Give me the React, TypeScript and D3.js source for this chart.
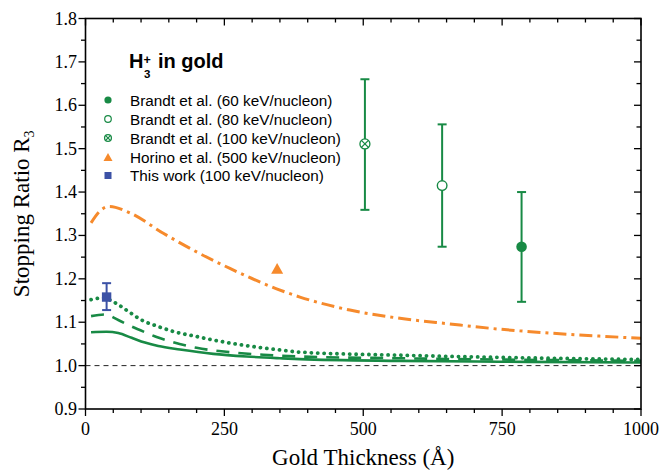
import React from "react";
import * as d3 from "d3";

// ---- data ----
const orangeX = [10, 25, 43, 80, 140, 200, 260, 344, 386, 476, 566, 656, 745, 835, 925, 1000];
const orangeY = [1.329, 1.355, 1.367, 1.352, 1.305, 1.262, 1.224, 1.177, 1.158, 1.128, 1.109, 1.096, 1.084, 1.075, 1.068, 1.063];

const dottedX = [10, 32, 53, 77, 101, 131, 160, 200, 230, 290, 350, 386, 566, 745, 1000];
const dottedY = [1.152, 1.156, 1.145, 1.125, 1.105, 1.09, 1.078, 1.067, 1.059, 1.046, 1.036, 1.031, 1.024, 1.019, 1.014];

const dashedX = [10, 35, 59, 80, 107, 128, 155, 200, 260, 320, 386, 566, 745, 1000];
const dashedY = [1.114, 1.118, 1.105, 1.092, 1.077, 1.066, 1.055, 1.041, 1.031, 1.025, 1.021, 1.017, 1.014, 1.011];

const solidX = [10, 38, 59, 83, 107, 131, 170, 230, 290, 350, 386, 566, 745, 1000];
const solidY = [1.077, 1.078, 1.075, 1.064, 1.053, 1.045, 1.037, 1.027, 1.021, 1.017, 1.015, 1.011, 1.009, 1.007];

// experimental points: [thickness, value, errLow, errHigh]
const brandt60 = [785, 1.274, 1.147, 1.4];
const brandt80 = [642, 1.415, 1.274, 1.556];
const brandt100 = [503, 1.511, 1.359, 1.66];
const horino500 = [345, 1.224];
const thisWork = [38, 1.158, 1.128, 1.19];

const xTickLabels = [0, 250, 500, 750, 1000];
const yTickLabels = [0.9, 1.0, 1.1, 1.2, 1.3, 1.4, 1.5, 1.6, 1.7, 1.8];

const legendLabels = [
  "Brandt et al. (60 keV/nucleon)",
  "Brandt et al. (80 keV/nucleon)",
  "Brandt et al. (100 keV/nucleon)",
  "Horino et al. (500 keV/nucleon)",
  "This work (100 keV/nucleon)",
];

const GREEN = "#188a45";
const ORANGE = "#f68a2c";
const BLUE = "#3c52a6";

const W = 660, H = 470;
const x = d3.scaleLinear().domain([0, 1000]).range([85.5, 641]);
const y = d3.scaleLinear().domain([0.9, 1.8]).range([409, 18.5]);

const line = d3
  .line<[number, number]>()
  .x((d) => x(d[0]))
  .y((d) => y(d[1]))
  .curve(d3.curveMonotoneX);

const zip = (a: number[], b: number[]) => a.map((v, i) => [v, b[i]] as [number, number]);

function ErrBar({ p, color }: { p: number[]; color: string }) {
  const cx = x(p[0]);
  return (
    <g stroke={color} strokeWidth={2}>
      <line x1={cx} x2={cx} y1={y(p[2])} y2={y(p[3])} />
      <line x1={cx - 4.5} x2={cx + 4.5} y1={y(p[2])} y2={y(p[2])} />
      <line x1={cx - 4.5} x2={cx + 4.5} y1={y(p[3])} y2={y(p[3])} />
    </g>
  );
}

function CrossCircle({ cx, cy, r }: { cx: number; cy: number; r: number }) {
  const k = r * 0.7;
  return (
    <g stroke={GREEN} strokeWidth={1.3}>
      <circle cx={cx} cy={cy} r={r} fill="white" />
      <line x1={cx - k} y1={cy - k} x2={cx + k} y2={cy + k} />
      <line x1={cx - k} y1={cy + k} x2={cx + k} y2={cy - k} />
    </g>
  );
}

function Triangle({ cx, cy, s }: { cx: number; cy: number; s: number }) {
  const h = s * 0.9;
  return (
    <polygon
      points={`${cx - s / 2},${cy + h / 2} ${cx + s / 2},${cy + h / 2} ${cx},${cy - h / 2}`}
      fill={ORANGE}
    />
  );
}

export default function App() {
  const xMinor = d3.range(0, 1001, 50);
  const yMinor = d3.range(0, 19).map((i) => 0.9 + i * 0.05);
  const isMajorX = (v: number) => v % 250 === 0;
  const isMajorY = (v: number) => Math.abs(Math.round(v * 10) - v * 10) < 1e-6;
  const x0 = x(0), x1 = x(1000), y0 = y(0.9), y1 = y(1.8);
  const serif = "'Liberation Serif', 'Times New Roman', serif";
  const sans = "'Liberation Sans', Arial, sans-serif";

  const legendRows = [100, 119, 138, 157, 175.5];
  const lx = 108;

  return (
    <svg width={W} height={H} style={{ position: "absolute", left: 0, top: 0, background: "white" }}>
      <rect width={W} height={H} fill="white" />
      {/* reference line at 1.0 */}
      <line x1={x0} x2={x1} y1={y(1)} y2={y(1)} stroke="#222" strokeWidth={1} strokeDasharray="5,4" />

      {/* curves */}
      <path d={line(zip(orangeX, orangeY)) || ""} fill="none" stroke={ORANGE} strokeWidth={3} strokeDasharray="13,5,3,5" />
      <path d={line(zip(solidX, solidY)) || ""} fill="none" stroke={GREEN} strokeWidth={2.6} />
      <path d={line(zip(dashedX, dashedY)) || ""} fill="none" stroke={GREEN} strokeWidth={2.6} strokeDasharray="13,9" />
      <path d={line(zip(dottedX, dottedY)) || ""} fill="none" stroke={GREEN} strokeWidth={3.8} strokeLinecap="round" strokeDasharray="0.1,6.3" />

      {/* data points */}
      <ErrBar p={brandt100} color={GREEN} />
      <CrossCircle cx={x(brandt100[0])} cy={y(brandt100[1])} r={5} />
      <ErrBar p={brandt80} color={GREEN} />
      <circle cx={x(brandt80[0])} cy={y(brandt80[1])} r={4.8} fill="white" stroke={GREEN} strokeWidth={1.4} />
      <ErrBar p={brandt60} color={GREEN} />
      <circle cx={x(brandt60[0])} cy={y(brandt60[1])} r={5.3} fill={GREEN} />
      <Triangle cx={x(horino500[0])} cy={y(horino500[1])} s={12} />
      <ErrBar p={thisWork} color={BLUE} />
      <rect x={x(thisWork[0]) - 4.7} y={y(thisWork[1]) - 4.7} width={9.4} height={9.4} fill={BLUE} />

      {/* frame */}
      <rect x={x0} y={y1} width={x1 - x0} height={y0 - y1} fill="none" stroke="black" strokeWidth={1.6} />

      {/* x ticks */}
      {xMinor.map((v) => {
        const len = isMajorX(v) ? 7 : 4;
        return (
          <g key={"xt" + v} stroke="black" strokeWidth={1.3}>
            <line x1={x(v)} x2={x(v)} y1={y0} y2={y0 + len} />
            <line x1={x(v)} x2={x(v)} y1={y1} y2={y1 + len} />
          </g>
        );
      })}
      {/* y ticks */}
      {yMinor.map((v, i) => {
        const len = isMajorY(v) ? 7 : 4.5;
        return (
          <g key={"yt" + i} stroke="black" strokeWidth={1.3}>
            <line x1={x0 - len} x2={x0} y1={y(v)} y2={y(v)} />
            <line x1={x1 - len} x2={x1} y1={y(v)} y2={y(v)} />
          </g>
        );
      })}

      {/* tick labels */}
      {xTickLabels.map((v) => (
        <text key={"xl" + v} x={x(v)} y={435} textAnchor="middle" fontFamily={serif} fontSize={18}>
          {v}
        </text>
      ))}
      {yTickLabels.map((v) => (
        <text key={"yl" + v} x={77} y={y(v) + 6} textAnchor="end" fontFamily={serif} fontSize={18}>
          {v.toFixed(1)}
        </text>
      ))}

      {/* axis titles */}
      <text x={(x0 + x1) / 2} y={465} textAnchor="middle" fontFamily={serif} fontSize={23}>
        Gold Thickness (Å)
      </text>
      <text transform={`translate(29,${(y0 + y1) / 2}) rotate(-90)`} textAnchor="middle" fontFamily={serif} fontSize={23}>
        Stopping Ratio R<tspan fontSize={14} dy={5}>3</tspan>
      </text>

      {/* legend title */}
      <g fontFamily={sans} fontWeight="bold" fill="black">
        <text x={129} y={68} fontSize={20}>H</text>
        <text x={144} y={78} fontSize={11.5}>3</text>
        <text x={143.5} y={64} fontSize={12.5}>+</text>
        <text x={158} y={68} fontSize={20}>in gold</text>
      </g>

      {/* legend entries */}
      <circle cx={lx} cy={legendRows[0]} r={3.6} fill={GREEN} />
      <circle cx={lx} cy={legendRows[1]} r={3.3} fill="white" stroke={GREEN} strokeWidth={1.2} />
      <CrossCircle cx={lx} cy={legendRows[2]} r={3.4} />
      <Triangle cx={lx} cy={legendRows[3]} s={9} />
      <rect x={lx - 3.5} y={legendRows[4] - 3.5} width={7} height={7} fill={BLUE} />
      {legendLabels.map((t, i) => (
        <text key={t} x={130} y={legendRows[i] + 5.5} fontFamily={sans} fontSize={15.3}>
          {t}
        </text>
      ))}
    </svg>
  );
}
